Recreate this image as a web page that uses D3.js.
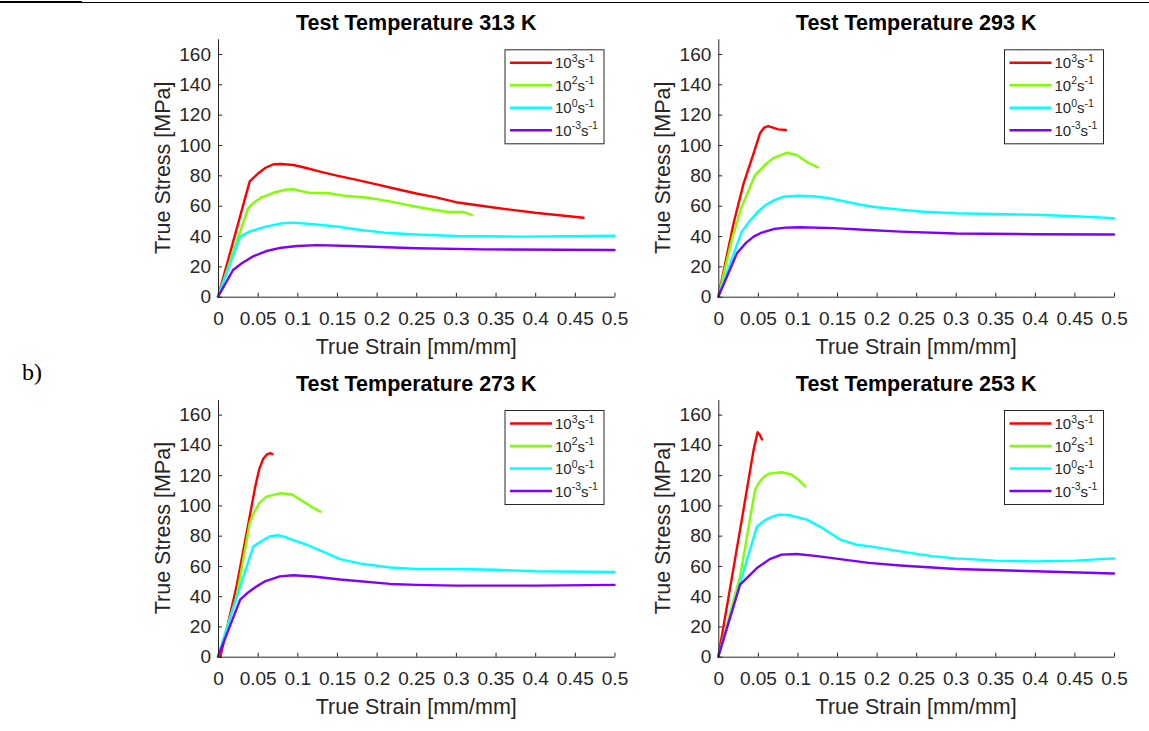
<!DOCTYPE html>
<html><head><meta charset="utf-8">
<script src="https://cdn.jsdelivr.net/npm/d3@7"></script>
<style>body{margin:0;background:#fff;} svg{display:block;}</style>
</head><body>
<svg id="c" width="1149" height="731"></svg>
<script>
// ---- data: [strain, stress] ----
const temps = ["313", "293", "273", "253"];
const rateExps = ["3", "2", "0", "-3"];
const rateColors = ["#ff0000", "#80ff00", "#00ffff", "#8000ff"];
const xTicks = [0, 0.05, 0.1, 0.15, 0.2, 0.25, 0.3, 0.35, 0.4, 0.45, 0.5];
const yTicks = [0, 20, 40, 60, 80, 100, 120, 140, 160];

const t313_r3 = [[0,0],[0.04,76],[0.05,81],[0.06,85],[0.07,87.3],[0.08,87.5],[0.095,86.8],[0.11,85],[0.13,82.3],[0.15,79.8],[0.175,77],[0.2,74],[0.225,71],[0.25,68],[0.275,65.5],[0.3,62.3],[0.35,58.6],[0.4,55.3],[0.461,52]];
const t313_r2 = [[0,0],[0.038,58.3],[0.045,62],[0.055,65.5],[0.07,68.5],[0.085,70.6],[0.095,70.8],[0.105,69.6],[0.115,68.5],[0.14,68.2],[0.16,66.5],[0.19,65.2],[0.22,62.5],[0.25,59.3],[0.27,57.5],[0.29,55.8],[0.31,55.8],[0.32,54]];
const t313_r0 = [[0,0],[0.028,39.6],[0.04,43],[0.06,46.2],[0.08,48.3],[0.095,48.8],[0.12,47.8],[0.15,46.3],[0.18,44],[0.21,42.2],[0.25,41],[0.3,40],[0.38,39.6],[0.5,40.2]];
const t313_rm3 = [[0,0],[0.019,17.6],[0.03,22],[0.045,26.8],[0.061,30.1],[0.08,32.3],[0.1,33.4],[0.125,34],[0.167,33.4],[0.25,31.9],[0.335,31.2],[0.5,30.8]];

const t293_r3 = [[0,0],[0.0193,48.4],[0.032,74.7],[0.0446,94.5],[0.0527,107.7],[0.058,111.5],[0.063,112.5],[0.069,111.5],[0.0758,110.3],[0.0855,109.9]];
const t293_r2 = [[0,0],[0.017,37.4],[0.0296,59.3],[0.0465,80.2],[0.061,87.9],[0.069,91.2],[0.0867,94.9],[0.099,93.4],[0.1136,88.3],[0.126,85.3]];
const t293_r0 = [[0,0],[0.0296,42.9],[0.04,50],[0.05,56],[0.06,60.5],[0.07,63.5],[0.0825,65.9],[0.1,66.6],[0.12,66.2],[0.137,65.2],[0.16,62.8],[0.18,60.6],[0.2,59],[0.23,57.4],[0.26,56],[0.3,55],[0.4,54],[0.45,53],[0.5,51.8]];
const t293_rm3 = [[0,0],[0.0235,28.6],[0.035,35.5],[0.0446,39.6],[0.055,42.3],[0.07,44.6],[0.085,45.5],[0.103,45.8],[0.146,45.2],[0.19,44],[0.23,42.9],[0.3,41.7],[0.4,41.2],[0.5,41]];

const t273_r3 = [[0.003,0],[0.0234,46.5],[0.036,81.6],[0.047,112.5],[0.052,124],[0.057,130.8],[0.062,133.8],[0.0665,134.5],[0.0686,133.9]];
const t273_r2 = [[0,0],[0.0235,39.7],[0.04,88.2],[0.045,95],[0.052,101.5],[0.061,105.8],[0.07,107],[0.078,108],[0.093,107.4],[0.1,105],[0.1077,102.5],[0.12,98.5],[0.129,95.9]];
const t273_r0 = [[0,0],[0.028,46.5],[0.0446,72.9],[0.055,76.5],[0.065,79.5],[0.075,80.3],[0.0825,79.5],[0.095,77],[0.112,74],[0.13,70],[0.154,64.5],[0.18,61.5],[0.217,59],[0.25,58],[0.3,58],[0.35,57.5],[0.4,56.5],[0.5,56]];
const t273_rm3 = [[0,0],[0.028,37.7],[0.038,42.5],[0.0488,46.5],[0.06,50],[0.078,53.1],[0.095,53.8],[0.12,53],[0.154,51],[0.217,48.1],[0.25,47.5],[0.3,47],[0.4,47],[0.5,47.5]];

const t253_r3 = [[0,0],[0.0275,83.8],[0.0446,136.7],[0.0496,148.4],[0.052,147],[0.0552,143.6]];
const t253_r2 = [[0,0],[0.0275,53.1],[0.0465,110.4],[0.052,115.5],[0.058,119],[0.0635,121],[0.0804,121.9],[0.093,120.3],[0.1,117.5],[0.1098,112.6]];
const t253_r0 = [[0,0],[0.0488,86.1],[0.06,90.5],[0.07,93],[0.078,93.9],[0.09,93.5],[0.112,90.6],[0.13,85.5],[0.154,77.4],[0.175,74],[0.192,72.9],[0.23,69.6],[0.27,66.5],[0.3,65],[0.35,63.5],[0.4,63],[0.45,63.5],[0.5,65]];
const t253_rm3 = [[0,0],[0.0275,47.6],[0.0488,58.6],[0.065,64.5],[0.08,67.5],[0.0993,67.9],[0.125,66.5],[0.154,64.5],[0.19,62],[0.23,60.3],[0.3,58],[0.4,56.5],[0.5,55]];

const panelSeries = [
  [t313_r3, t313_r2, t313_r0, t313_rm3],
  [t293_r3, t293_r2, t293_r0, t293_rm3],
  [t273_r3, t273_r2, t273_r0, t273_rm3],
  [t253_r3, t253_r2, t253_r0, t253_rm3]
];

// ---- layout ----
const svg = d3.select("#c");
const font = "'Liberation Sans', Arial, Helvetica, sans-serif";
const axisCol = "#262626";

// top rule
svg.append("line").attr("x1",0).attr("x2",1149).attr("y1",2.5).attr("y2",2.5).attr("stroke","#000").attr("stroke-width",1);
svg.append("line").attr("x1",0).attr("x2",82).attr("y1",2).attr("y2",2).attr("stroke","#000").attr("stroke-width",2);

svg.append("text").attr("x",22).attr("y",380).attr("font-family","'Liberation Serif', 'Times New Roman', serif")
  .attr("font-size",24).attr("fill","#000").text("b)");

const panels = [
  {x0:218, x1:614.5, y0:296.7, yTop:38.8},
  {x0:718.3, x1:1114, y0:296.7, yTop:38.8},
  {x0:218, x1:614.5, y0:656.7, yTop:399.5},
  {x0:718.3, x1:1114, y0:656.7, yTop:399.5}
];

panels.forEach((p, i) => {
  const x = d3.scaleLinear().domain([0, 0.5]).range([p.x0, p.x1]);
  const y = d3.scaleLinear().domain([0, 170]).range([p.y0, p.yTop]);
  const g = svg.append("g");

  // series
  const line = d3.line().x(d => x(d[0])).y(d => y(d[1])).curve(d3.curveLinear);
  panelSeries[i].forEach((s, k) => {
    g.append("path").attr("d", line(s)).attr("fill","none")
      .attr("stroke", rateColors[k]).attr("stroke-width", 2.4)
      .attr("stroke-linejoin","round").attr("stroke-linecap","round");
  });

  // axes
  const xa = g.append("g").attr("transform", `translate(0,${p.y0})`)
    .call(d3.axisBottom(x).tickValues(xTicks).tickSizeInner(-4).tickSizeOuter(0).tickPadding(15)
      .tickFormat(d => d === 0 ? "0" : String(+d.toFixed(2))));
  const ya = g.append("g").attr("transform", `translate(${p.x0},0)`)
    .call(d3.axisLeft(y).tickValues(yTicks).tickSizeInner(-4).tickSizeOuter(0).tickPadding(7));
  [xa, ya].forEach(a => {
    a.select(".domain").attr("stroke", axisCol).attr("stroke-width", 1);
    a.selectAll(".tick line").attr("stroke", axisCol);
    a.selectAll(".tick text").attr("fill", axisCol).attr("font-size", 19).attr("font-family", font);
  });
  xa.selectAll(".tick text").attr("dy", "0.71em");

  const cx = (p.x0 + p.x1) / 2;
  const cy = (p.y0 + p.yTop) / 2;
  g.append("text").attr("x", cx).attr("y", p.yTop - 8.5).attr("text-anchor","middle")
    .attr("font-family", font).attr("font-weight","bold").attr("font-size", 21.5).attr("fill","#000")
    .text(`Test Temperature ${temps[i]} K`);
  g.append("text").attr("x", cx).attr("y", p.y0 + 57.5).attr("text-anchor","middle")
    .attr("font-family", font).attr("font-size", 21.5).attr("fill", axisCol).text("True Strain [mm/mm]");
  g.append("text").attr("transform", `translate(${p.x0 - 48},${cy}) rotate(-90)`)
    .attr("text-anchor","middle").attr("font-family", font).attr("font-size", 21.5).attr("fill", axisCol)
    .text("True Stress [MPa]");

  // legend
  const lx = p.x1 - 109.5, ly = p.yTop + 11;
  g.append("rect").attr("x", lx).attr("y", ly).attr("width", 99).attr("height", 94)
    .attr("fill","#fff").attr("stroke", "#262626").attr("stroke-width", 1);
  rateExps.forEach((r, k) => {
    const yy = ly + 13 + k * 22.5;
    g.append("line").attr("x1", lx + 5).attr("x2", lx + 47).attr("y1", yy).attr("y2", yy)
      .attr("stroke", rateColors[k]).attr("stroke-width", 2.4);
    const t = g.append("text").attr("x", lx + 50).attr("y", yy + 5.5).attr("font-family", font)
      .attr("font-size", 15).attr("fill", axisCol);
    t.append("tspan").text("10");
    t.append("tspan").attr("font-size", 10.5).attr("dy", -6.5).text(r);
    t.append("tspan").attr("dy", 6.5).text("s");
    t.append("tspan").attr("font-size", 10.5).attr("dy", -6.5).text("-1");
  });
});
</script>
</body></html>
